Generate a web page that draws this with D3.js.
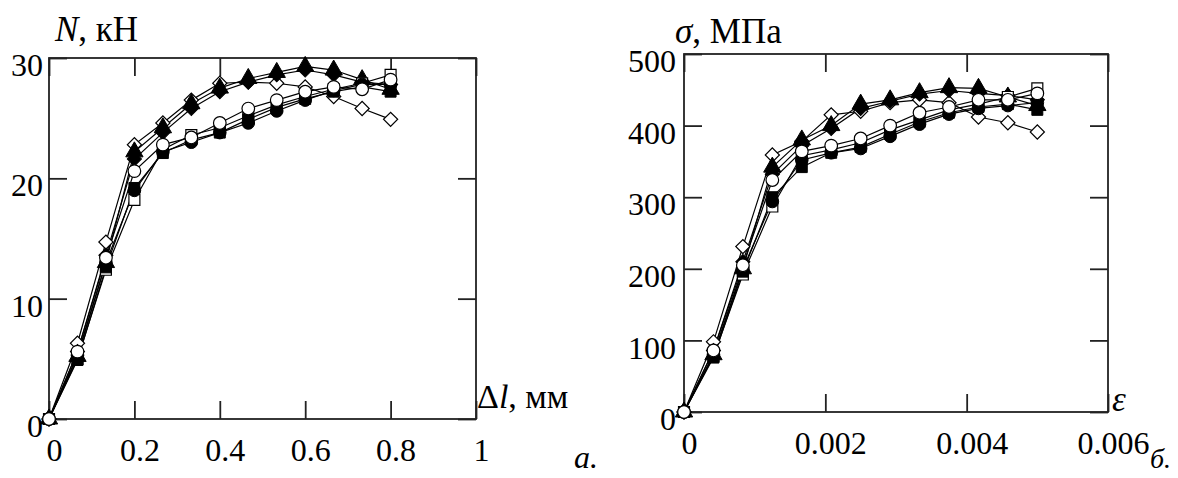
<!DOCTYPE html>
<html><head><meta charset="utf-8">
<script src="https://cdn.jsdelivr.net/npm/d3@7"></script>
<style>
body{margin:0;background:#fff}
svg{display:block}
text{font-family:"Liberation Serif","Times New Roman",serif;fill:#000}
</style>
</head><body>
<svg id="c" width="1178" height="478"></svg>
<script>
// ---- data ----
const dl  = [0, 0.0667, 0.1333, 0.2, 0.2667, 0.3333, 0.4, 0.4667, 0.5333, 0.6, 0.6667, 0.7333, 0.8];
const eps = [0, 0.000417, 0.000833, 0.00125, 0.001667, 0.002083, 0.0025, 0.002917, 0.003333, 0.00375, 0.004167, 0.004583, 0.005];

const N_openDiamond    = [0, 6.3, 14.7, 22.8, 24.6, 26.5, 27.9, 28.0, 27.9, 27.6, 26.8, 25.8, 24.9];
const N_filledTriangle = [0, 5.2, 13.0, 22.2, 24.2, 26.2, 27.5, 28.3, 28.8, 29.3, 29.0, 28.2, 27.4];
const N_filledDiamond  = [0, 5.6, 13.6, 21.6, 23.8, 25.8, 27.2, 28.0, 28.6, 29.0, 28.6, 28.0, 27.8];
const N_openSquare     = [0, 5.0, 12.4, 18.2, 22.4, 23.6, 24.2, 25.2, 26.1, 26.8, 27.4, 27.9, 28.6];
const N_filledSquare   = [0, 4.9, 12.6, 19.2, 22.1, 23.2, 23.8, 24.9, 25.9, 26.6, 27.2, 27.6, 27.2];
const N_filledCircle   = [0, 5.3, 13.0, 19.0, 22.2, 23.0, 23.8, 24.6, 25.6, 26.5, 27.3, 27.8, 27.8];
const N_openCircle     = [0, 5.6, 13.4, 20.6, 22.8, 23.4, 24.6, 25.8, 26.5, 27.2, 27.6, 27.4, 28.2];

const S_openDiamond    = [0, 98, 231, 359, 378, 415, 420, 432, 436, 432, 412, 404, 391];
const S_filledTriangle = [0, 80, 200, 342, 380, 400, 430, 436, 446, 453, 452, 440, 428];
const S_filledDiamond  = [0, 86, 210, 332, 372, 396, 424, 434, 444, 449, 445, 442, 436];
const S_openSquare     = [0, 78, 192, 287, 358, 366, 376, 394, 408, 422, 430, 440, 452];
const S_filledSquare   = [0, 76, 196, 300, 342, 362, 370, 388, 405, 418, 426, 430, 422];
const S_filledCircle   = [0, 80, 200, 294, 352, 362, 368, 385, 402, 416, 424, 428, 432];
const S_openCircle     = [0, 86, 205, 324, 364, 372, 382, 400, 418, 426, 436, 436, 445];

const xTicksA = [0, 0.2, 0.4, 0.6, 0.8, 1];
const yTicksA = [0, 10, 20, 30];
const xTicksB = [0, 0.002, 0.004, 0.006];
const yTicksB = [0, 100, 200, 300, 400, 500];

const markerKinds = ["openDiamond","filledTriangle","filledDiamond","openSquare","filledSquare","filledCircle","openCircle"];
const seriesA = [N_openDiamond, N_filledTriangle, N_filledDiamond, N_openSquare, N_filledSquare, N_filledCircle, N_openCircle];
const seriesB = [S_openDiamond, S_filledTriangle, S_filledDiamond, S_openSquare, S_filledSquare, S_filledCircle, S_openCircle];

// ---- drawing ----
const svg = d3.select("#c");
const FS = 32;   // tick labels
const TS = 35;   // axis titles

function markerPath(kind){
  if (kind.endsWith("Diamond")) return d3.symbol(d3.symbolSquare, 100)();
  if (kind.endsWith("Triangle")) return d3.symbol(d3.symbolTriangle, 130)();
  if (kind.endsWith("Square")) return d3.symbol(d3.symbolSquare, 120)();
  return d3.symbol(d3.symbolCircle, 125)();
}

function drawChart(cfg){
  const g = svg.append("g");
  const x = d3.scaleLinear().domain(cfg.xDomain).range([cfg.left, cfg.right]);
  const y = d3.scaleLinear().domain(cfg.yDomain).range([cfg.bottom, cfg.top]);
  const fmt = d => String(d);

  g.append("rect").attr("x", cfg.left).attr("y", cfg.top)
    .attr("width", cfg.right - cfg.left).attr("height", cfg.bottom - cfg.top)
    .attr("fill", "none").attr("stroke", "#222").attr("stroke-width", 1.8);

  const TL = 18;
  const bottomAx = g.append("g").attr("transform", `translate(0,${cfg.bottom})`)
    .call(d3.axisBottom(x).tickValues(cfg.xTicks).tickFormat(fmt).tickSizeInner(-TL).tickSizeOuter(0).tickPadding(19));
  const topAx = g.append("g").attr("transform", `translate(0,${cfg.top})`)
    .call(d3.axisTop(x).tickValues(cfg.xTicks).tickFormat("").tickSizeInner(-TL).tickSizeOuter(0));
  const leftAx = g.append("g").attr("transform", `translate(${cfg.left},0)`)
    .call(d3.axisLeft(y).tickValues(cfg.yTicks).tickFormat(fmt).tickSizeInner(-TL).tickSizeOuter(0).tickPadding(cfg.yPad));
  const rightAx = g.append("g").attr("transform", `translate(${cfg.right},0)`)
    .call(d3.axisRight(y).tickValues(cfg.yTicks).tickFormat("").tickSizeInner(-TL).tickSizeOuter(0));

  [bottomAx, topAx, leftAx, rightAx].forEach(a => {
    a.attr("font-family", null);
    a.select(".domain").remove();
    a.selectAll(".tick line").attr("stroke", "#222").attr("stroke-width", 1.8);
    a.selectAll("text").attr("font-size", FS).attr("fill", "#000");
  });
  bottomAx.selectAll("text").attr("dx", 5);
  leftAx.selectAll("text").attr("dy", "0.55em");

  const line = d3.line().x((d,i) => x(cfg.xs[i])).y(d => y(d));
  cfg.series.forEach(s => {
    g.append("path").attr("d", line(s)).attr("fill", "none")
      .attr("stroke", "#000").attr("stroke-width", 1.2);
  });
  cfg.series.forEach((s, k) => {
    const kind = markerKinds[k];
    const open = kind.startsWith("open");
    const rot = kind.endsWith("Diamond") ? 45 : 0;
    g.append("g").selectAll("path").data(s).join("path")
      .attr("d", markerPath(kind))
      .attr("transform", (d,i) => `translate(${x(cfg.xs[i])},${y(d)}) rotate(${rot})`)
      .attr("fill", open ? "#fff" : "#000")
      .attr("stroke", "#000").attr("stroke-width", open ? 1.2 : 1);
  });
}

drawChart({left:49, right:476, top:58, bottom:419, xDomain:[0,1], yDomain:[0,30],
  xTicks:xTicksA, yTicks:yTicksA, xs:dl, series:seriesA, yPad:6});
drawChart({left:684, right:1108, top:54, bottom:412, xDomain:[0,0.006], yDomain:[0,500],
  xTicks:xTicksB, yTicks:yTicksB, xs:eps, series:seriesB, yPad:8});

// ---- titles ----
function label(xp, yp, parts, fs){
  const t = svg.append("text").attr("x", xp).attr("y", yp).attr("font-size", fs);
  parts.forEach(p => t.append("tspan").attr("font-style", p[1] ? "italic" : "normal").text(p[0]));
  return t;
}
label(55, 41, [["N", true], [", кН", false]], TS);
label(477, 408, [["Δ", false], ["l", true], [", мм", false]], 34);
label(574, 468, [["а.", true]], FS);
label(675, 43, [["σ", true], [", МПа", false]], TS);
label(1112, 411, [["ε", true]], TS);
label(1150, 468, [["б.", true]], 28);
</script>
</body></html>
